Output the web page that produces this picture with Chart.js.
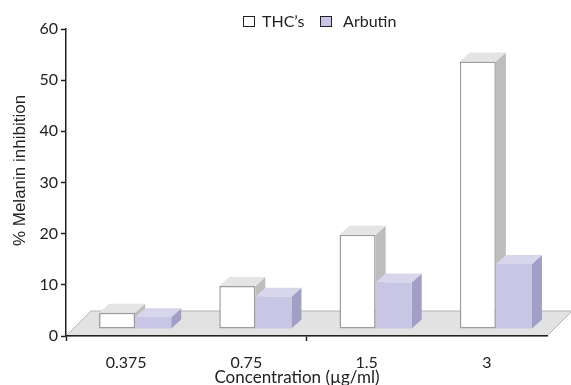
<!DOCTYPE html>
<html>
<head>
<meta charset="utf-8">
<script src="https://cdn.jsdelivr.net/npm/chart.js@4/dist/chart.umd.min.js"></script>
<style>
  html, body { margin: 0; padding: 0; background: #ffffff; }
  #chart { display: block; }
</style>
</head>
<body>
<canvas id="chart" width="571" height="385"></canvas>
<script>
// Concentrations tested and the melanin inhibition (%) measured for each compound
const concentrations = ['0.375', '0.75', '1.5', '3'];
const thcValues = [3.2, 8.4, 18.4, 52.3];
const arbutinValues = [2.3, 6.3, 9.1, 12.7];
const seriesNames = ["THC\u2019s", ' Arbutin'];
const yMin = 0;
const yMax = 60;
const yStep = 10;
const xTitle = 'Concentration (\u00b5g/ml)';
const yTitle = '% Melanin inhibition';

// Face colours for the extruded columns: [front, top, side]
const faceColors = [
  ['#ffffff', '#e4e4e4', '#bdbdbd'],
  ['#c8c6e4', '#d7d6eb', '#a19fc6']
];
const DEPTH_X = 10, DEPTH_Y = 9;       // column depth
const SHIFT_X = 9, SHIFT_Y = -7;       // columns sit partway back on the floor
const FLOOR_DEPTH = 25;

const tickFont = { family: 'Lato', size: 16 };

// Floor plane under the columns, drawn before the axes
const floorPlugin = {
  id: 'floor',
  beforeDraw(chart) {
    const { ctx, scales: { x, y } } = chart;
    const y0 = y.getPixelForValue(0);
    ctx.save();
    ctx.beginPath();
    ctx.moveTo(x.left, y0);
    ctx.lineTo(x.right, y0);
    ctx.lineTo(x.right + FLOOR_DEPTH, y0 - FLOOR_DEPTH);
    ctx.lineTo(x.left + FLOOR_DEPTH, y0 - FLOOR_DEPTH);
    ctx.closePath();
    ctx.fillStyle = '#e2e2e2';
    ctx.fill();
    ctx.strokeStyle = '#b4b4b4';
    ctx.lineWidth = 1;
    ctx.stroke();
    ctx.restore();
  }
};

// Top and side faces for every column; the library then paints the front faces
const extrudePlugin = {
  id: 'extrude',
  beforeDatasetsDraw(chart) {
    const ctx = chart.ctx;
    ctx.save();
    ctx.translate(SHIFT_X, SHIFT_Y);
    const metas = chart.data.datasets.map((d, i) => chart.getDatasetMeta(i));
    const n = chart.data.labels.length;
    for (let c = 0; c < n; c++) {
      metas.forEach((meta, s) => {
        const bar = meta.data[c];
        if (!bar) return;
        const p = bar.getProps(['x', 'y', 'base', 'width'], true);
        const l = p.x - p.width / 2, r = p.x + p.width / 2;
        const top = Math.min(p.y, p.base), bot = Math.max(p.y, p.base);
        // side face
        ctx.beginPath();
        ctx.moveTo(r, top);
        ctx.lineTo(r + DEPTH_X, top - DEPTH_Y);
        ctx.lineTo(r + DEPTH_X, bot - DEPTH_Y);
        ctx.lineTo(r, bot);
        ctx.closePath();
        ctx.fillStyle = faceColors[s][2];
        ctx.fill();
        // top face
        ctx.beginPath();
        ctx.moveTo(l, top);
        ctx.lineTo(l + DEPTH_X, top - DEPTH_Y);
        ctx.lineTo(r + DEPTH_X, top - DEPTH_Y);
        ctx.lineTo(r, top);
        ctx.closePath();
        ctx.fillStyle = faceColors[s][1];
        ctx.fill();
      });
    }
  },
  afterDatasetsDraw(chart) {
    chart.ctx.restore();
  }
};

// Legend and axis titles
const annotatePlugin = {
  id: 'annotate',
  afterDraw(chart) {
    const { ctx } = chart;
    ctx.save();
    // legend
    const boxes = [[243.5, 16.5, 262], [320.5, 16.5, 339]];
    ctx.font = '16px Lato';
    ctx.textBaseline = 'middle';
    ctx.textAlign = 'left';
    chart.data.datasets.forEach((ds, i) => {
      const [bx, by, tx] = boxes[i];
      ctx.fillStyle = ds.backgroundColor;
      ctx.fillRect(bx, by, 11, 10);
      ctx.strokeStyle = '#222222';
      ctx.lineWidth = 1;
      ctx.strokeRect(bx, by, 11, 10);
      ctx.fillStyle = '#222222';
      ctx.fillText(ds.label, tx, 21.5);
    });
    // x title
    ctx.textAlign = 'center';
    ctx.font = '17px Lato';
    ctx.fillText(xTitle, 297, 378);
    // y title
    ctx.translate(20, 170.5);
    ctx.rotate(-Math.PI / 2);
    ctx.font = '17px "Liberation Sans"';
    ctx.fillText(yTitle, 0, 0);
    ctx.restore();
  }
};

new Chart(document.getElementById('chart'), {
  type: 'bar',
  data: {
    labels: concentrations,
    datasets: [
      {
        label: seriesNames[0],
        data: thcValues,
        backgroundColor: faceColors[0][0],
        borderColor: '#9c9c9c',
        borderWidth: 1.5,
        borderSkipped: false,
        categoryPercentage: 0.6,
        barPercentage: 1.0
      },
      {
        label: seriesNames[1],
        data: arbutinValues,
        backgroundColor: faceColors[1][0],
        borderWidth: 0,
        categoryPercentage: 0.6,
        barPercentage: 1.0
      }
    ]
  },
  options: {
    responsive: false,
    devicePixelRatio: 1,
    animation: false,
    clip: false,
    layout: { padding: { top: 29, right: 24, left: 0, bottom: 0 } },
    plugins: {
      legend: { display: false },
      tooltip: { enabled: false }
    },
    scales: {
      x: {
        offset: true,
        grid: {
          offset: true,
          drawOnChartArea: false,
          tickLength: 5,
          tickWidth: 1.5,
          color: (c) => (c.index % 2 === 0 ? '#222222' : 'rgba(0,0,0,0)')
        },
        border: { color: '#222222', width: 1.5 },
        ticks: { color: '#222222', font: tickFont, padding: 12, maxRotation: 0 },
        afterFit: (s) => { s.height = 49; }
      },
      y: {
        min: yMin,
        max: yMax,
        grid: { drawOnChartArea: false, tickLength: 5, tickWidth: 1.5, color: '#222222' },
        border: { color: '#222222', width: 1.5 },
        ticks: { stepSize: yStep, color: '#222222', font: tickFont, padding: 3 },
        afterFit: (s) => { s.width = 66; }
      }
    }
  },
  plugins: [floorPlugin, extrudePlugin, annotatePlugin]
});
</script>
</body>
</html>
